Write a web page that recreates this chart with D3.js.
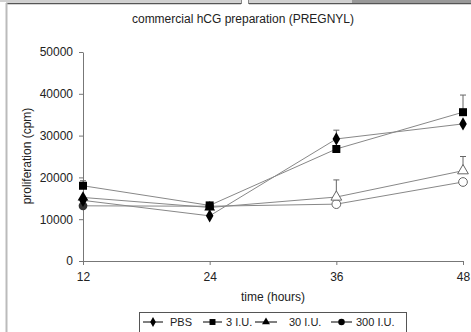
<!DOCTYPE html>
<html><head><meta charset="utf-8">
<script src="https://cdn.jsdelivr.net/npm/d3@7"></script>
<style>body{margin:0;background:#fff}svg{display:block;font-family:"Liberation Sans",Arial,sans-serif}</style>
</head><body><svg id="c" width="471" height="332"></svg>
<script>
const times = [12, 24, 36, 48];
const seriesNames = ["PBS", "3 I.U.", "30 I.U.", "300 I.U."];
const pbs = [14500, 10800, 29200, 32800];
const iu3 = [18000, 13300, 26800, 35600];
const iu30 = [15200, 12800, 15300, 21600];
const iu300 = [13200, 13100, 13600, 18900];
const errPbs = [0, 0, 2100, 0];
const err3 = [1200, 0, 0, 4100];
const err30 = [0, 0, 4100, 3400];
const err300 = [0, 0, 0, 0];
const yTicks = [0, 10000, 20000, 30000, 40000, 50000];
const xTicks = [12, 24, 36, 48];
const title = "commercial hCG preparation (PREGNYL)";
const xTitle = "time (hours)";
const yTitle = "proliferation (cpm)";

const svg = d3.select("#c");
// window frame
svg.append("rect").attr("x",0).attr("y",0).attr("width",471).attr("height",2).attr("fill","#d0d0d0");
svg.append("line").attr("x1",6).attr("x2",241).attr("y1",3.5).attr("y2",3.5).attr("stroke","#555").attr("stroke-width",1.5);
svg.append("line").attr("x1",249).attr("x2",471).attr("y1",3.5).attr("y2",3.5).attr("stroke","#555").attr("stroke-width",1.5);
svg.append("rect").attr("x",352).attr("y",0).attr("width",119).attr("height",3).attr("fill","#999");
svg.append("rect").attr("x",241).attr("y",0).attr("width",8).attr("height",4).attr("fill","#fff");
svg.append("line").attr("x1",241.5).attr("x2",241.5).attr("y1",0).attr("y2",4).attr("stroke","#888");
svg.append("line").attr("x1",248.5).attr("x2",248.5).attr("y1",0).attr("y2",4).attr("stroke","#888");
svg.append("rect").attr("x",5.5).attr("y",3).attr("width",2).attr("height",329).attr("fill","#bbb");

const x = d3.scaleLinear().domain([12,48]).range([83,463]);
const y = d3.scaleLinear().domain([0,50000]).range([261,52]);

const xAxis = svg.append("g").attr("transform","translate(0,261)")
  .call(d3.axisBottom(x).tickValues(xTicks).tickSize(4).tickSizeOuter(0).tickFormat(d3.format("d")));
const yAxis = svg.append("g").attr("transform","translate(83,0)")
  .call(d3.axisLeft(y).tickValues(yTicks).tickSize(4).tickSizeOuter(0).tickFormat(d3.format("d")));
[xAxis,yAxis].forEach(g=>{
  g.select(".domain").attr("stroke","#777");
  g.selectAll(".tick line").attr("stroke","#777");
  g.selectAll("text").attr("font-size",12).attr("fill","#222").attr("font-family","Liberation Sans, Arial, sans-serif");
});
xAxis.selectAll("text").attr("dy","0.9em").attr("y",9);
yAxis.selectAll("text").attr("x",-10);

svg.append("text").attr("x",243).attr("y",23).attr("text-anchor","middle").attr("font-size",12).attr("fill","#222").text(title);
svg.append("text").attr("x",273).attr("y",301).attr("text-anchor","middle").attr("font-size",12).attr("fill","#222").text(xTitle);
svg.append("text").attr("transform","translate(31,156) rotate(-90)").attr("text-anchor","middle").attr("font-size",12).attr("fill","#222").text(yTitle);

const series = [
  {name:seriesNames[0], v:pbs, e:errPbs, sym:d3.symbolDiamond, size:50, hollow:false},
  {name:seriesNames[1], v:iu3, e:err3, sym:d3.symbolSquare, size:64, hollow:false},
  {name:seriesNames[2], v:iu30, e:err30, sym:d3.symbolTriangle, size:50, hollow:true},
  {name:seriesNames[3], v:iu300, e:err300, sym:d3.symbolCircle, size:60, hollow:true},
];
const line = d3.line().x((d,i)=>x(times[i])).y(d=>y(d));
// error bars
series.forEach(s=>{
  s.v.forEach((v,i)=>{
    if(!s.e[i]) return;
    const cx = x(times[i]);
    svg.append("line").attr("x1",cx).attr("x2",cx).attr("y1",y(v)).attr("y2",y(v+s.e[i])).attr("stroke","#666");
    svg.append("line").attr("x1",cx-3).attr("x2",cx+3).attr("y1",y(v+s.e[i])).attr("y2",y(v+s.e[i])).attr("stroke","#666");
  });
});
series.forEach(s=>{
  svg.append("path").attr("d",line(s.v)).attr("fill","none").attr("stroke","#888").attr("stroke-width",1);
});
series.slice().reverse().forEach(s=>{
  s.v.forEach((v,i)=>{
    const open = s.hollow && times[i] >= 36;
    svg.append("path").attr("d",d3.symbol().type(s.sym).size(s.size)())
      .attr("transform",`translate(${x(times[i])},${y(v)})`)
      .attr("fill", open ? "#fff" : (s.sym===d3.symbolCircle ? "#333" : "#000"))
      .attr("stroke", open ? "#666" : "none");
  });
});

// legend
const lg = svg.append("g");
lg.append("rect").attr("x",139.5).attr("y",312.5).attr("width",267).attr("height",22).attr("fill","#fff").attr("stroke","#555");
const legLine = [[143,163],[203,222],[255,277],[331,352]];
const legText = [170, 226, 289, 356];
series.forEach((s,i)=>{
  const [a,b] = legLine[i];
  lg.append("line").attr("x1",a).attr("x2",b).attr("y1",322).attr("y2",322).attr("stroke","#000");
  lg.append("path").attr("d",d3.symbol().type(s.sym).size(s.size*0.55)()).attr("transform",`translate(${(a+b)/2},322)`).attr("fill","#000");
  lg.append("text").attr("x",legText[i]).attr("y",326).attr("font-size",11).attr("fill","#222").text(s.name);
});
</script></body></html>
